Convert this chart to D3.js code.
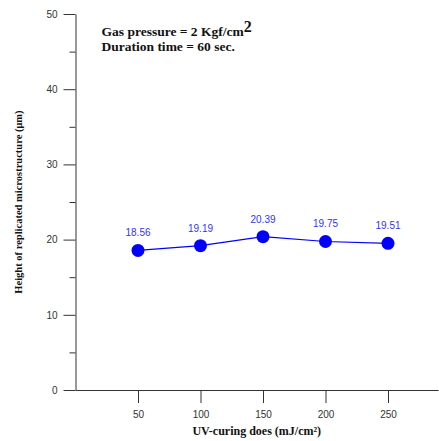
<!DOCTYPE html>
<html>
<head>
<meta charset="utf-8">
<script src="https://cdn.jsdelivr.net/npm/d3@7"></script>
<style>
  body { margin: 0; background: #fff; }
  .tick text { font-family: "Liberation Sans", Arial, sans-serif; font-size: 10px; fill: #333; }
  .title { font-family: "Liberation Serif", "Times New Roman", serif; font-weight: bold; fill: #111; }
</style>
</head>
<body>
<script>
// data
const doses = [50, 100, 150, 200, 250];
const heights = [18.56, 19.19, 20.39, 19.75, 19.51];
const xTicks = [50, 100, 150, 200, 250];
const yTicks = [0, 10, 20, 30, 40, 50];
const yMinorTicks = [5, 15, 25, 35, 45];

const margin = {top: 14, right: 1, bottom: 51, left: 75.5},
    width = 439 - margin.left - margin.right,
    height = 441 - margin.top - margin.bottom;

const x = d3.scaleLinear().domain([0, 290]).range([0, width]);
const y = d3.scaleLinear().domain([0, 50]).range([height, 0]);

const svg = d3.select("body").append("svg")
    .attr("width", 439)
    .attr("height", 441)
  .append("g")
    .attr("transform", `translate(${margin.left},${margin.top})`);

// y axis with minor ticks
svg.append("g")
    .call(d3.axisLeft(y).tickValues(yMinorTicks).tickSize(6).tickFormat(""))
    .call(g => g.select(".domain").remove())
    .selectAll("line").attr("stroke", "#333");
svg.append("g")
    .call(d3.axisLeft(y).tickValues(yTicks).tickSize(12).tickSizeOuter(0).tickPadding(6))
    .call(g => g.select(".domain").attr("stroke", "#333"))
    .selectAll("line").attr("stroke", "#333");

// x axis
svg.append("g")
    .attr("transform", `translate(0,${height})`)
    .call(d3.axisBottom(x).tickValues(xTicks).tickSize(13).tickSizeOuter(0).tickPadding(8))
    .call(g => g.select(".domain").attr("stroke", "#333"))
    .selectAll("line").attr("stroke", "#333");

// line + points
const line = d3.line().x((d, i) => x(doses[i])).y(d => y(d));
svg.append("path")
    .datum(heights)
    .attr("fill", "none")
    .attr("stroke", "#0000ff")
    .attr("stroke-width", 1.2)
    .attr("d", line);

svg.selectAll(".pt")
    .data(heights)
  .enter().append("circle")
    .attr("class", "pt")
    .attr("cx", (d, i) => x(doses[i]))
    .attr("cy", d => y(d))
    .attr("r", 6.5)
    .attr("fill", "#0000ff");

svg.selectAll(".lbl")
    .data(heights)
  .enter().append("text")
    .attr("class", "lbl")
    .attr("x", (d, i) => x(doses[i]))
    .attr("y", d => y(d) - 14)
    .attr("text-anchor", "middle")
    .attr("font-family", "Liberation Sans, Arial, sans-serif")
    .attr("font-size", 10)
    .attr("fill", "#3333ff")
    .text(d => d.toFixed(2));

// axis titles
svg.append("text")
    .attr("class", "title")
    .style("font-size", "12px")
    .attr("x", x(145))
    .attr("y", height + 45)
    .attr("text-anchor", "middle")
    .text("UV-curing does (mJ/cm²)");

svg.append("text")
    .attr("class", "title")
    .style("font-size", "10.5px")
    .attr("transform", `translate(${-54},${y(25)}) rotate(-90)`)
    .attr("text-anchor", "middle")
    .text("Height of replicated microstructure (μm)");

// annotation
const note = svg.append("text")
    .attr("class", "title")
    .style("font-size", "13.5px")
    .attr("x", 26)
    .attr("y", 21.5);
note.append("tspan").text("Gas pressure = 2 Kgf/cm");
note.append("tspan").attr("dy", -4).style("font-size", "16px").text("2");
svg.append("text")
    .attr("class", "title")
    .style("font-size", "13.5px")
    .attr("x", 26)
    .attr("y", 37)
    .text("Duration time = 60 sec.");
</script>
</body>
</html>
